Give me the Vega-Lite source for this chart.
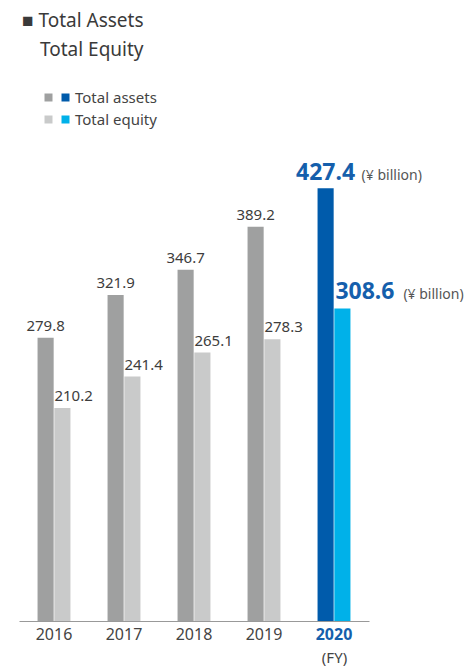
{
  "$schema": "https://vega.github.io/schema/vega-lite/v6.json",
  "width": 350,
  "height": 476,
  "autosize": {"type": "none"},
  "padding": {"left": 19, "top": 145, "right": 96, "bottom": 46},
  "title": {
    "text": ["■ Total Assets", "\u200b\u00a0\u00a0\u00a0\u2009Total Equity"],
    "anchor": "start",
    "frame": "group",
    "fontSize": 19,
    "fontWeight": "normal",
    "color": "#3a3a3a",
    "lineHeight": 29,
    "font": "Noto Sans",
    "offset": 30,
    "dx": 3
  },
  "config": {"view": {"stroke": null}, "font": "Noto Sans"},
  "data": {
    "values": [
      {"year": "2016", "series": "Total assets", "value": 279.8},
      {"year": "2016", "series": "Total equity", "value": 210.2},
      {"year": "2017", "series": "Total assets", "value": 321.9},
      {"year": "2017", "series": "Total equity", "value": 241.4},
      {"year": "2018", "series": "Total assets", "value": 346.7},
      {"year": "2018", "series": "Total equity", "value": 265.1},
      {"year": "2019", "series": "Total assets", "value": 389.2},
      {"year": "2019", "series": "Total equity", "value": 278.3},
      {"year": "2020", "series": "Total assets", "value": 427.4},
      {"year": "2020", "series": "Total equity", "value": 308.6}
    ]
  },
  "encoding": {
    "x": {
      "field": "year",
      "type": "nominal",
      "scale": {"paddingInner": 0.53, "paddingOuter": 0.265},
      "axis": {
        "title": "(FY)",
        "labelAngle": 0,
        "ticks": false,
        "grid": false,
        "domainColor": "#999999",
        "labelFontSize": 16,
        "labelPadding": 5,
        "labelColor": {"condition": {"test": "datum.value == '2020'", "value": "#155fac"}, "value": "#444444"},
        "labelFontWeight": {"condition": {"test": "datum.value == '2020'", "value": "bold"}, "value": "normal"},
        "titleX": 315,
        "titleY": 36,
        "titleAlign": "center",
        "titleBaseline": "middle",
        "titleFontWeight": "normal",
        "titleFontSize": 15,
        "titleColor": "#444444"
      }
    },
    "xOffset": {"field": "series", "type": "nominal", "scale": {"paddingInner": 0.04}},
    "y": {"field": "value", "type": "quantitative", "scale": {"domain": [0, 470]}, "axis": null}
  },
  "layer": [
    {
      "transform": [{"filter": "datum.year != '2020'"}],
      "mark": {"type": "bar"},
      "encoding": {
        "color": {
          "field": "series",
          "type": "nominal",
          "scale": {"range": ["#9fa0a0", "#c9caca"]},
          "legend": {
            "title": null,
            "orient": "none",
            "legendX": 22,
            "legendY": -55,
            "symbolType": "square",
            "symbolSize": 64,
            "symbolStrokeWidth": 0,
            "labelFontSize": 15,
            "labelExpr": "''",
            "rowPadding": 6,
            "padding": 0
          }
        }
      }
    },
    {
      "transform": [{"filter": "datum.year == '2020'"}],
      "mark": {"type": "bar"},
      "encoding": {
        "fill": {
          "field": "series",
          "type": "nominal",
          "scale": {"domain": ["Total assets", "Total equity"], "range": ["#005bab", "#00b1e9"]},
          "legend": {
            "title": null,
            "orient": "none",
            "legendX": 39,
            "legendY": -55,
            "symbolType": "square",
            "symbolSize": 64,
            "symbolStrokeWidth": 0,
            "labelFontSize": 15,
            "labelColor": "#444444",
            "labelOffset": 2,
            "rowPadding": 6,
            "padding": 0
          }
        }
      }
    },
    {
      "transform": [{"filter": "datum.year != '2020' && datum.series == 'Total assets'"}],
      "mark": {"type": "text", "align": "center", "baseline": "alphabetic", "dy": -7, "fontSize": 15, "color": "#3d3d3d"},
      "encoding": {"text": {"field": "value", "type": "quantitative", "format": ".1f"}}
    },
    {
      "transform": [{"filter": "datum.year != '2020' && datum.series == 'Total equity'"}],
      "mark": {"type": "text", "align": "left", "baseline": "alphabetic", "dx": -8, "dy": -7, "fontSize": 15, "color": "#3d3d3d"},
      "encoding": {"text": {"field": "value", "type": "quantitative", "format": ".1f"}}
    },
    {
      "transform": [{"filter": "datum.year == '2020' && datum.series == 'Total assets'"}],
      "mark": {"type": "text", "align": "center", "baseline": "alphabetic", "dy": -8, "fontSize": 23, "fontWeight": "bold", "color": "#155fac"},
      "encoding": {"text": {"field": "value", "type": "quantitative", "format": ".1f"}}
    },
    {
      "transform": [{"filter": "datum.year == '2020' && datum.series == 'Total assets'"}],
      "mark": {"type": "text", "align": "left", "baseline": "alphabetic", "dx": 36, "dy": -8, "fontSize": 14, "color": "#555555", "text": "(¥ billion)"}
    },
    {
      "transform": [{"filter": "datum.year == '2020' && datum.series == 'Total equity'"}],
      "mark": {"type": "text", "align": "left", "baseline": "alphabetic", "dx": -7, "dy": -9, "fontSize": 23, "fontWeight": "bold", "color": "#155fac"},
      "encoding": {"text": {"field": "value", "type": "quantitative", "format": ".1f"}}
    },
    {
      "transform": [{"filter": "datum.year == '2020' && datum.series == 'Total equity'"}],
      "mark": {"type": "text", "align": "left", "baseline": "alphabetic", "dx": 61, "dy": -9, "fontSize": 14, "color": "#555555", "text": "(¥ billion)"}
    }
  ]
}
